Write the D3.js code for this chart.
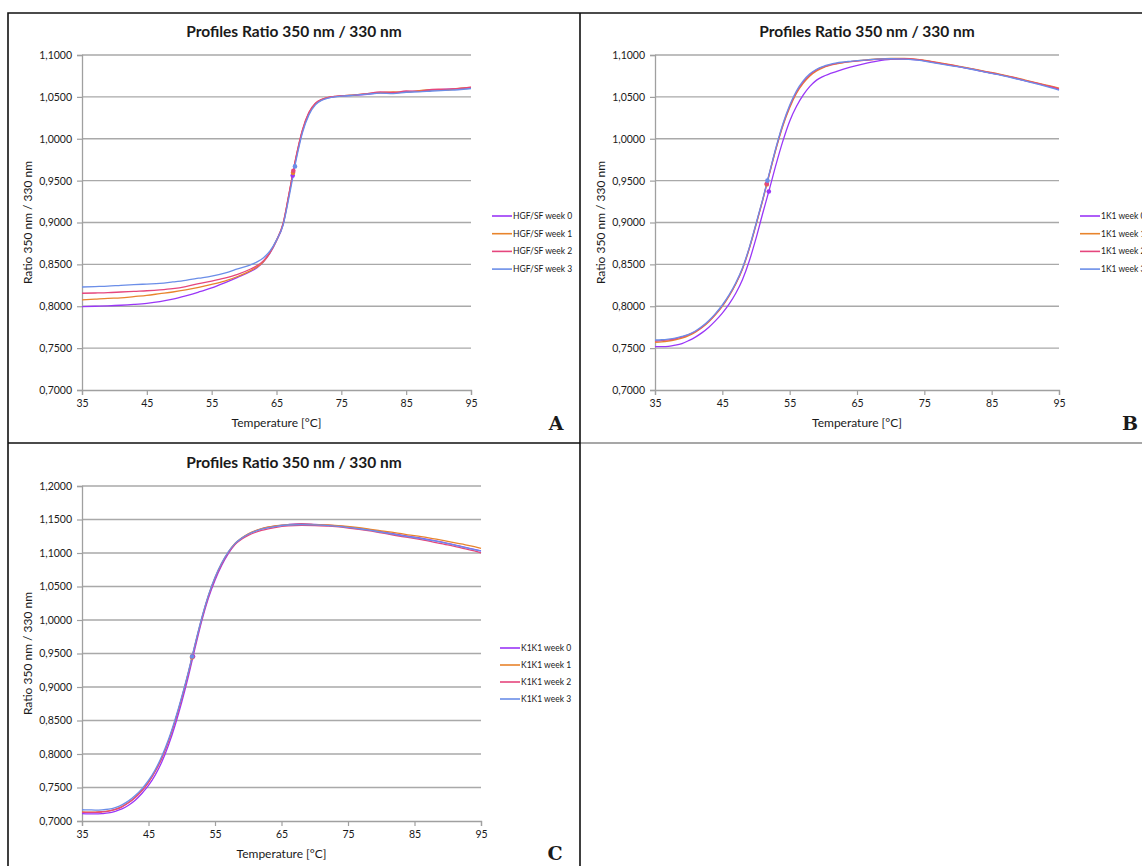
<!DOCTYPE html>
<html>
<head>
<meta charset="utf-8">
<script src="https://cdn.jsdelivr.net/npm/d3@7"></script>
<style>
  html, body { margin: 0; padding: 0; background: #fff; }
  svg { display: block; }
  text { font-family: Lato, "Open Sans", sans-serif; fill: #1a1a1a; }
</style>
</head>
<body>
<svg id="fig" width="1142" height="866"></svg>
<script>
// ---- Temperature grids (°C) ----
const tempsA = [35,37,39,41,43,45,47,49,51,53,55,57,59,61,62,63,64,65,66,67,68,69,70,71,72,73,74,75,77,79,81,83,85,87,89,91,93,95];
const tempsB = [35,36,37,38,39,40,41,42,43,44,45,46,47,48,49,50,51,52,53,54,55,56,57,58,59,60,62,64,66,68,70,72,74,76,78,80,82,84,86,88,90,92,94,95];
const tempsC = tempsB;

// ---- HGF/SF ratio 350/330 ----
const hgfWeek0 = [0.7995,0.8000,0.8005,0.8012,0.8022,0.8035,0.8055,0.8085,0.8125,0.8170,0.8220,0.8280,0.8345,0.8415,0.8460,0.8530,0.8635,0.8780,0.8970,0.9360,0.9760,1.0090,1.0300,1.0415,1.0465,1.0490,1.0502,1.0510,1.0518,1.0530,1.0548,1.0545,1.0562,1.0570,1.0582,1.0590,1.0598,1.0608];
const hgfWeek1 = [0.8075,0.8085,0.8095,0.8100,0.8115,0.8130,0.8150,0.8170,0.8195,0.8225,0.8260,0.8300,0.8355,0.8425,0.8470,0.8535,0.8640,0.8785,0.8980,0.9370,0.9775,1.0100,1.0310,1.0420,1.0470,1.0495,1.0505,1.0512,1.0525,1.0538,1.0550,1.0560,1.0555,1.0575,1.0585,1.0580,1.0600,1.0612];
const hgfWeek2 = [0.8155,0.8158,0.8162,0.8170,0.8178,0.8185,0.8195,0.8210,0.8235,0.8270,0.8300,0.8335,0.8380,0.8445,0.8485,0.8545,0.8645,0.8790,0.8985,0.9375,0.9780,1.0105,1.0315,1.0425,1.0472,1.0495,1.0505,1.0515,1.0522,1.0540,1.0560,1.0552,1.0570,1.0565,1.0590,1.0592,1.0598,1.0615];
const hgfWeek3 = [0.8230,0.8235,0.8240,0.8250,0.8258,0.8265,0.8272,0.8290,0.8310,0.8335,0.8360,0.8395,0.8445,0.8495,0.8530,0.8580,0.8660,0.8790,0.8965,0.9330,0.9735,1.0070,1.0285,1.0405,1.0460,1.0485,1.0500,1.0508,1.0520,1.0532,1.0545,1.0540,1.0555,1.0560,1.0570,1.0578,1.0585,1.0600];
const hgfTmT = [67.5, 67.55, 67.6, 67.85];
const hgfTmV = [0.956, 0.9593, 0.9618, 0.967];

// ---- 1K1 ratio 350/330 ----
const k1Week0 = [0.7517,0.7518,0.7522,0.7535,0.7555,0.7590,0.7632,0.7685,0.7750,0.7828,0.7918,0.8025,0.8155,0.8320,0.8540,0.8810,0.9110,0.9400,0.9700,0.9975,1.0210,1.0385,1.0520,1.0625,1.0700,1.0745,1.0805,1.0855,1.0895,1.0928,1.0948,1.0952,1.0942,1.0918,1.0890,1.0862,1.0832,1.0798,1.0768,1.0732,1.0692,1.0655,1.0612,1.0588];
const k1Week1 = [0.7570,0.7575,0.7585,0.7600,0.7620,0.7650,0.7690,0.7745,0.7815,0.7900,0.8000,0.8120,0.8265,0.8445,0.8685,0.8970,0.9265,0.9580,0.9885,1.0155,1.0370,1.0540,1.0660,1.0750,1.0810,1.0850,1.0895,1.0922,1.0940,1.0952,1.0958,1.0958,1.0948,1.0925,1.0898,1.0868,1.0838,1.0805,1.0775,1.0740,1.0700,1.0662,1.0625,1.0605];
const k1Week2 = [0.7585,0.7590,0.7598,0.7612,0.7632,0.7660,0.7698,0.7752,0.7822,0.7908,0.8008,0.8128,0.8272,0.8452,0.8692,0.8978,0.9272,0.9588,0.9895,1.0168,1.0385,1.0555,1.0675,1.0765,1.0822,1.0858,1.0900,1.0922,1.0935,1.0948,1.0955,1.0955,1.0945,1.0920,1.0892,1.0865,1.0835,1.0800,1.0770,1.0735,1.0695,1.0658,1.0618,1.0595];
const k1Week3 = [0.7597,0.7600,0.7608,0.7620,0.7640,0.7665,0.7705,0.7760,0.7830,0.7915,0.8015,0.8135,0.8280,0.8460,0.8700,0.8985,0.9280,0.9595,0.9905,1.0180,1.0400,1.0570,1.0690,1.0775,1.0830,1.0865,1.0905,1.0925,1.0938,1.0950,1.0955,1.0950,1.0938,1.0912,1.0885,1.0860,1.0830,1.0795,1.0765,1.0728,1.0690,1.0650,1.0605,1.0580];
const k1TmT = [51.9, 51.6, 51.6, 51.7];
const k1TmV = [0.9370, 0.9454, 0.9462, 0.950];

// ---- K1K1 ratio 350/330 ----
const kk1Week0 = [0.7110,0.7106,0.7105,0.7110,0.7120,0.7145,0.7180,0.7235,0.7310,0.7410,0.7530,0.7685,0.7880,0.8130,0.8430,0.8775,0.9160,0.9580,0.9985,1.0325,1.0595,1.0815,1.0990,1.1130,1.1220,1.1280,1.1360,1.1400,1.1425,1.1438,1.1428,1.1415,1.1400,1.1375,1.1350,1.1318,1.1285,1.1250,1.1220,1.1185,1.1145,1.1100,1.1055,1.1030];
const kk1Week1 = [0.7135,0.7133,0.7132,0.7138,0.7150,0.7175,0.7215,0.7275,0.7355,0.7455,0.7582,0.7742,0.7942,0.8192,0.8495,0.8838,0.9215,0.9628,1.0020,1.0360,1.0630,1.0845,1.1015,1.1142,1.1225,1.1288,1.1365,1.1405,1.1425,1.1430,1.1425,1.1418,1.1405,1.1385,1.1360,1.1330,1.1305,1.1272,1.1245,1.1210,1.1175,1.1135,1.1095,1.1070];
const kk1Week2 = [0.7130,0.7128,0.7128,0.7135,0.7148,0.7172,0.7212,0.7272,0.7352,0.7452,0.7578,0.7738,0.7938,0.8188,0.8490,0.8832,0.9210,0.9622,1.0012,1.0350,1.0620,1.0832,1.1000,1.1125,1.1205,1.1262,1.1338,1.1380,1.1405,1.1412,1.1410,1.1400,1.1385,1.1360,1.1335,1.1300,1.1265,1.1232,1.1198,1.1160,1.1120,1.1075,1.1030,1.1000];
const kk1Week3 = [0.7168,0.7166,0.7163,0.7166,0.7176,0.7200,0.7240,0.7300,0.7380,0.7480,0.7605,0.7765,0.7965,0.8215,0.8515,0.8855,0.9230,0.9640,1.0030,1.0368,1.0638,1.0850,1.1018,1.1140,1.1220,1.1280,1.1355,1.1395,1.1418,1.1425,1.1420,1.1410,1.1395,1.1370,1.1345,1.1310,1.1278,1.1245,1.1215,1.1180,1.1140,1.1095,1.1050,1.1030];
const kk1TmT = [51.7, 51.55, 51.6, 51.55];
const kk1TmV = [0.9454, 0.9442, 0.9457, 0.9456];

// ---- Labels and ticks ----
const weekNames = ["week 0", "week 1", "week 2", "week 3"];
const xTicks = [35, 45, 55, 65, 75, 85, 95];
const yTicksAB = [0.70, 0.75, 0.80, 0.85, 0.90, 0.95, 1.00, 1.05, 1.10];
const yTicksC = [0.70, 0.75, 0.80, 0.85, 0.90, 0.95, 1.00, 1.05, 1.10, 1.15, 1.20];
const chartTitle = "Profiles Ratio 350 nm / 330 nm";
const xTitle = "Temperature [°C]";
const yTitle = "Ratio 350 nm / 330 nm";

const weekColors = ["#9a36f7", "#e8842c", "#e5467d", "#6b8ee8"];

const commaLocale = d3.formatLocale({decimal: ",", thousands: ".", grouping: [3], currency: ["", ""]});
const fmt4 = commaLocale.format(".4f");

const svg = d3.select("#fig");

// Panel frames
const frame = svg.append("g");
frame.append("line").attr("x1", 580).attr("y1", 443).attr("x2", 1142).attr("y2", 443)
  .attr("stroke", "#8a8a8a").attr("stroke-width", 1.5);
frame.append("path")
  .attr("d", "M8,866 L8,13 L1142,13 M8,443 L580,443 M580,13 L580,866")
  .attr("fill", "none").attr("stroke", "#111").attr("stroke-width", 1.6);

function drawPanel(cfg) {
  const g = svg.append("g");
  const x = d3.scaleLinear().domain([35, 95]).range([cfg.left, cfg.right]);
  const y = d3.scaleLinear().domain(cfg.yDomain).range([cfg.bottom, cfg.top]);

  // horizontal gridlines
  g.append("g").selectAll("line").data(cfg.yTicks.slice(1)).join("line")
    .attr("x1", cfg.left).attr("x2", cfg.right)
    .attr("y1", d => y(d)).attr("y2", d => y(d))
    .attr("stroke", "#a9a9a9").attr("stroke-width", 1.3);

  // y axis
  const ya = g.append("g").attr("transform", `translate(${cfg.left},0)`)
    .call(d3.axisLeft(y).tickValues(cfg.yTicks).tickFormat(fmt4).tickSize(5).tickPadding(5));
  ya.select(".domain").attr("stroke", "#a0a0a0").attr("stroke-width", 1.3);
  ya.selectAll(".tick line").attr("stroke", "#a0a0a0").attr("stroke-width", 1.2);
  ya.selectAll(".tick text").style("font-family", "Lato, sans-serif").style("font-size", "10.5px").attr("fill", "#1a1a1a");

  // x axis
  const xa = g.append("g").attr("transform", `translate(0,${cfg.bottom})`)
    .call(d3.axisBottom(x).tickValues(xTicks).tickFormat(d3.format("d")).tickSize(5).tickPadding(5));
  xa.select(".domain").attr("stroke", "#a0a0a0").attr("stroke-width", 1.3);
  xa.selectAll(".tick line").attr("stroke", "#a0a0a0").attr("stroke-width", 1.2);
  xa.selectAll(".tick text").style("font-family", "Lato, sans-serif").style("font-size", "10.5px").attr("fill", "#1a1a1a");

  // series lines
  const line = d3.line().x(d => x(d[0])).y(d => y(d[1])).curve(d3.curveMonotoneX);
  cfg.series.forEach((vals, i) => {
    g.append("path")
      .datum(cfg.temps.map((t, k) => [t, vals[k]]))
      .attr("d", line)
      .attr("fill", "none")
      .attr("stroke", weekColors[i])
      .attr("stroke-width", 1.3)
      .attr("stroke-linejoin", "round");
  });

  // melting-point markers
  g.append("g").selectAll("circle").data(cfg.tmT).join("circle")
    .attr("cx", d => x(d)).attr("cy", (d, i) => y(cfg.tmV[i]))
    .attr("r", 2.3).attr("fill", (d, i) => weekColors[i]);

  // titles
  g.append("text").attr("x", cfg.titleX).attr("y", cfg.top - 18)
    .attr("text-anchor", "middle").style("font-size", "15.5px").style("font-weight", "bold")
    .text(chartTitle);
  g.append("text").attr("x", (cfg.left + cfg.right) / 2).attr("y", cfg.bottom + 37)
    .attr("text-anchor", "middle").style("font-size", "12px")
    .text(xTitle);
  g.append("text")
    .attr("transform", `translate(${cfg.left - 50},${(cfg.top + cfg.bottom) / 2}) rotate(-90)`)
    .attr("text-anchor", "middle").style("font-size", "12px")
    .text(yTitle);

  // legend
  const lg = g.append("g").attr("transform", `translate(${cfg.legendX},${cfg.legendY})`);
  weekNames.forEach((w, i) => {
    const row = lg.append("g").attr("transform", `translate(0,${i * cfg.legendStep})`);
    row.append("line").attr("x1", 0).attr("x2", 20).attr("y1", 0).attr("y2", 0)
      .attr("stroke", weekColors[i]).attr("stroke-width", 1.6);
    row.append("text").attr("x", 21).attr("y", 3).style("font-size", "8.5px")
      .text(cfg.name + " " + w);
  });

  // panel letter
  g.append("text").attr("x", cfg.letterX).attr("y", cfg.letterY)
    .attr("text-anchor", "middle")
    .style("font-family", "'DejaVu Serif', 'Liberation Serif', serif")
    .style("font-size", "19px").style("font-weight", "bold")
    .text(cfg.letter);
}

drawPanel({
  name: "HGF/SF", letter: "A",
  temps: tempsA, series: [hgfWeek0, hgfWeek1, hgfWeek2, hgfWeek3],
  tmT: hgfTmT, tmV: hgfTmV,
  yDomain: [0.70, 1.10], yTicks: yTicksAB,
  left: 82, right: 471, top: 55, bottom: 390,
  titleX: 294, legendX: 492, legendY: 216, legendStep: 17.7,
  letterX: 556, letterY: 430
});

drawPanel({
  name: "1K1", letter: "B",
  temps: tempsB, series: [k1Week0, k1Week1, k1Week2, k1Week3],
  tmT: k1TmT, tmV: k1TmV,
  yDomain: [0.70, 1.10], yTicks: yTicksAB,
  left: 655, right: 1059, top: 55, bottom: 390,
  titleX: 867, legendX: 1080, legendY: 216, legendStep: 17.7,
  letterX: 1130, letterY: 430
});

drawPanel({
  name: "K1K1", letter: "C",
  temps: tempsC, series: [kk1Week0, kk1Week1, kk1Week2, kk1Week3],
  tmT: kk1TmT, tmV: kk1TmV,
  yDomain: [0.70, 1.20], yTicks: yTicksC,
  left: 82, right: 481, top: 486, bottom: 821,
  titleX: 294, legendX: 500, legendY: 648, legendStep: 17,
  letterX: 555, letterY: 860
});
</script>
</body>
</html>
